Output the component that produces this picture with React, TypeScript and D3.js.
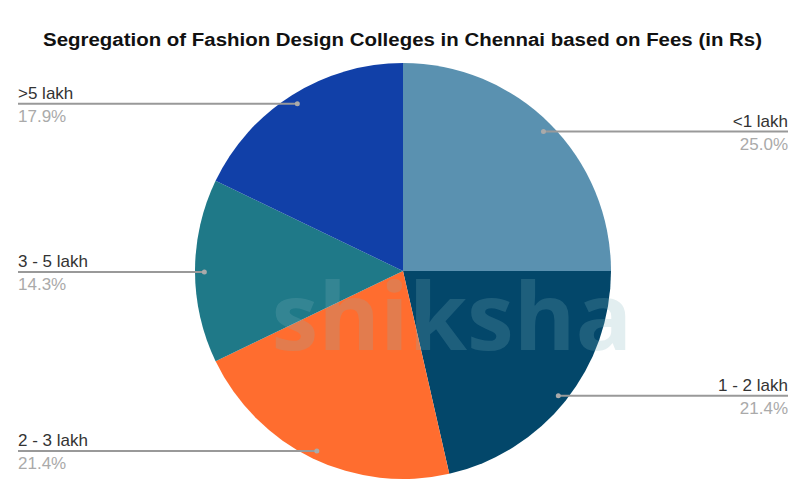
import { useMemo } from "react"
import * as d3 from "d3"

const categories = ["<1 lakh", "1 - 2 lakh", "2 - 3 lakh", "3 - 5 lakh", ">5 lakh"]
const counts = [7, 6, 6, 4, 5]
const colors = ["#5a91b0", "#03476a", "#ff6d2f", "#1f7988", "#1140a8"]

const W = 801
const H = 503

export default function App() {
  const cx = 403
  const cy = 271
  const r = 208

  const arcs = useMemo(() => d3.pie<number>().sort(null).value(d => d)(counts), [])
  const arc = d3.arc<d3.PieArcDatum<number>>().innerRadius(0).outerRadius(r)
  const total = d3.sum(counts)

  return (
    <svg width={W} height={H} style={{ position: "absolute", left: 0, top: 0, background: "#fff" }}
      fontFamily="Liberation Sans, Arial, sans-serif">
      <text x={43} y={46} fontSize={18} fontWeight="bold" fill="#111"
        textLength={719} lengthAdjust="spacingAndGlyphs">
        Segregation of Fashion Design Colleges in Chennai based on Fees (in Rs)
      </text>
      <g transform={`translate(${cx},${cy})`}>
        {arcs.map((a, i) => (
          <path key={i} d={arc(a) ?? ""} fill={colors[i]} />
        ))}
      </g>
      {/* faint watermark */}
      <text x={452} y={350} textAnchor="middle" fontSize={94} fontWeight="bold"
        fill="#7fb3bd" opacity={0.22} fontFamily="Open Sans, sans-serif">shiksha</text>
      {arcs.map((a, i) => {
        const mid = (a.startAngle + a.endAngle) / 2
        const px = cx + Math.sin(mid) * r * 0.955
        const py = cy - Math.cos(mid) * r * 0.955 + 1
        const right = Math.sin(mid) > 0
        const x2 = right ? 788 : 18
        const pct = d3.format(".1f")((counts[i] / total) * 100) + "%"
        return (
          <g key={i}>
            <line x1={px} y1={py} x2={x2} y2={py} stroke="#999" strokeWidth={2} />
            <circle cx={px} cy={py} r={2.5} fill="#aaa" />
            <text x={x2} y={py - 5} textAnchor={right ? "end" : "start"} fontSize={17} fill="#333">
              {categories[i]}
            </text>
            <text x={x2} y={py + 18} textAnchor={right ? "end" : "start"} fontSize={17} fill="#aaa">
              {pct}
            </text>
          </g>
        )
      })}
    </svg>
  )
}
